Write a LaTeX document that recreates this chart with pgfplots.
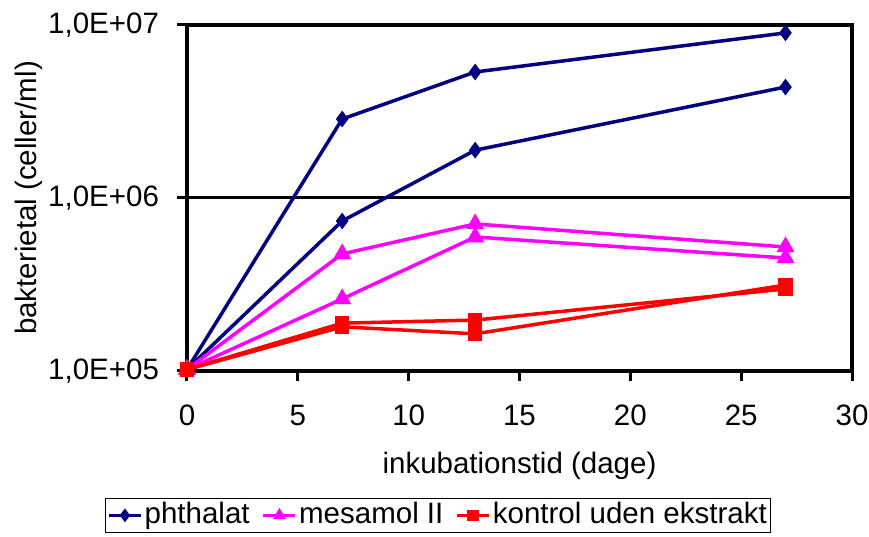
\documentclass[border=0pt]{standalone}
\usepackage{fontspec}
\setmainfont{Liberation Sans}
\usepackage{pgfplots}
\pgfplotsset{compat=1.18}
\definecolor{navyc}{RGB}{0,0,128}
\definecolor{magc}{RGB}{255,0,255}
\definecolor{redc}{RGB}{255,0,0}
\newcommand{\chartfont}{\fontsize{29.5}{35}\selectfont}
\begin{document}
\chartfont
\begin{tikzpicture}
\begin{axis}[
  scale only axis,
  width=665pt, height=346pt,
  ymode=log,
  xmin=0, xmax=30, ymin=1e5, ymax=1e7,
  xtick={0,5,10,15,20,25,30},
  ytick={1e5,1e6,1e7},
  yticklabels={{1,0E+05},{1,0E+06},{1,0E+07}},
  minor ytick={},
  log basis y=10,
  /pgf/number format/assume math mode=true,
  tick label style={font=\chartfont},
  xticklabel style={yshift=-14pt},
  yticklabel style={xshift=-8pt},
  label style={font=\chartfont},
  tick align=outside,
  major tick length=10pt,
  tick style={black, line width=3pt},
  xtick pos=bottom, ytick pos=left,
  axis line style={line width=3.5pt},
  ymajorgrids,
  grid style={black, line width=3pt},
  xlabel={inkubationstid (dage)},
  ylabel={bakterietal (celler/ml)},
  every axis x label/.style={at={(axis description cs:0.5,0)}, anchor=center, yshift=-95pt},
  every axis y label/.style={at={(axis description cs:0,0.5)}, anchor=center, rotate=90, yshift=158pt},
  legend style={at={(0.3774,-0.367)}, anchor=north, legend columns=3, draw=black, line width=1pt,
    font=\chartfont, inner sep=2pt,
    /tikz/every odd column/.append style={column sep=0pt},
    /tikz/every even column/.append style={column sep=10pt}},
  legend cell align=left,
  legend image code/.code={\draw[#1, line width=3.5pt] (0pt,0pt) -- (32pt,0pt); \draw[#1, mark repeat=1, mark size=4pt] plot coordinates {(16pt,0pt)};},
]
% phthalat
\addplot[navyc, line width=3.5pt, mark=diamond*, mark size=5.5pt, mark options={solid, fill=navyc}]
  coordinates {(0,1.02e5) (7,2.86e6) (13,5.35e6) (27,9.0e6)};
\addlegendentry{phthalat}
\addplot[navyc, line width=3.5pt, mark=diamond*, mark size=5.5pt, mark options={solid, fill=navyc}, forget plot]
  coordinates {(0,1.02e5) (7,7.36e5) (13,1.89e6) (27,4.38e6)};
% mesamol
\addplot[magc, line width=3.5pt, mark=triangle*, mark size=7pt, mark options={solid, fill=magc}]
  coordinates {(0,1.02e5) (7,4.75e5) (13,7.08e5) (27,5.21e5)};
\addlegendentry{mesamol II}
\addplot[magc, line width=3.5pt, mark=triangle*, mark size=7pt, mark options={solid, fill=magc}, forget plot]
  coordinates {(0,1.02e5) (7,2.61e5) (13,5.95e5) (27,4.5e5)};
% kontrol
\addplot[redc, line width=3.5pt, mark=square*, mark size=5.5pt, mark options={solid, fill=redc}]
  coordinates {(0,1.02e5) (7,1.89e5) (13,1.97e5) (27,2.98e5)};
\addlegendentry{kontrol uden ekstrakt}
\addplot[redc, line width=3.5pt, mark=square*, mark size=5.5pt, mark options={solid, fill=redc}, forget plot]
  coordinates {(0,1.02e5) (7,1.80e5) (13,1.64e5) (27,3.14e5)};
\end{axis}
\pgfresetboundingbox
\path (current axis.south west) ++(-187pt,-165pt) rectangle ++(869pt,536pt);
\end{tikzpicture}
\end{document}
